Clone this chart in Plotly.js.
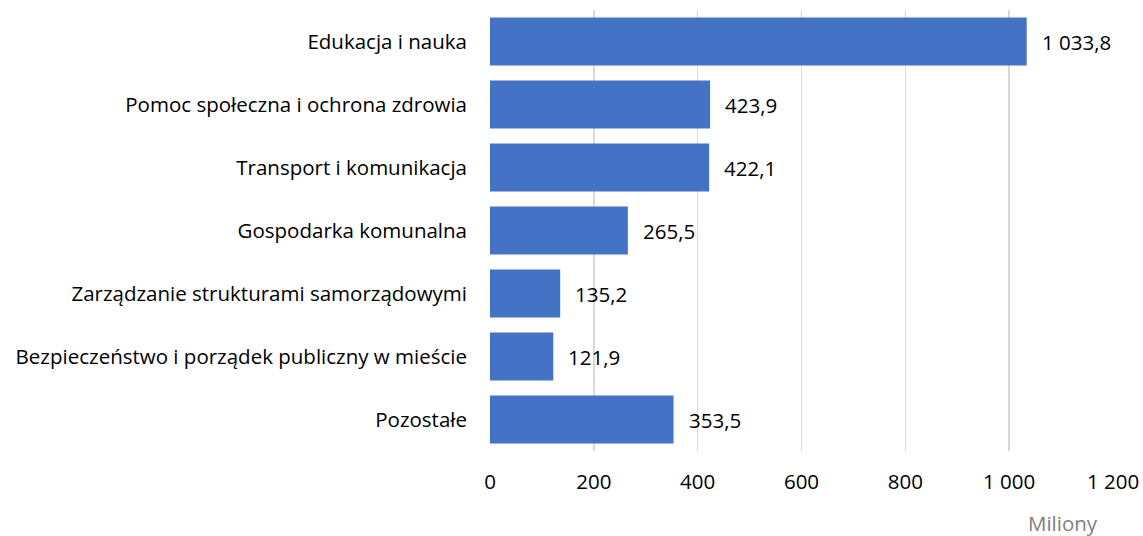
<!DOCTYPE html>
<html>
<head>
<meta charset="utf-8">
<script src="https://cdn.plot.ly/plotly-3.0.1.min.js"></script>
<style>html,body{margin:0;padding:0;background:#fff;}#chart{width:1143px;height:536px;}</style>
</head>
<body>
<div id="chart"></div>
<script>
const categories = [
  "Edukacja i nauka",
  "Pomoc społeczna i ochrona zdrowia",
  "Transport i komunikacja",
  "Gospodarka komunalna",
  "Zarządzanie strukturami samorządowymi",
  "Bezpieczeństwo i porządek publiczny w mieście",
  "Pozostałe"
];
const values = [1033.8, 423.9, 422.1, 265.5, 135.2, 121.9, 353.5];
const valueLabels = ["1 033,8", "423,9", "422,1", "265,5", "135,2", "121,9", "353,5"];
const unitLabel = "Miliony";

const FONT = "'Open Sans', Lato, sans-serif";
const FS = 20.5;

const annotations = categories.map((c, i) => ({
  x: values[i], y: c, xref: 'x', yref: 'y',
  text: valueLabels[i], showarrow: false,
  xanchor: 'left', yanchor: 'middle', xshift: 13,
  font: {family: FONT, size: FS, color: '#000'}
}));
const pw = 1143 - 490 - 30, ph = 536 - 10 - 85;
annotations.push({
  x: (1063 - 490) / pw, y: (536 - 85 - 523) / ph, xref: 'paper', yref: 'paper',
  text: unitLabel, showarrow: false, xanchor: 'center', yanchor: 'middle',
  font: {family: FONT, size: FS, color: '#808080'}
});

const layout = {
  width: 1143, height: 536,
  margin: {l: 490, r: 30, t: 10, b: 85},
  paper_bgcolor: '#fff', plot_bgcolor: '#fff',
  separators: ', ',
  showlegend: false,
  bargap: 0.24,
  font: {family: FONT, size: FS, color: '#000'},
  xaxis: {
    range: [0, 1200], dtick: 200, tick0: 0,
    separatethousands: true,
    showgrid: true, gridcolor: '#d9d9d9', gridwidth: 1.5,
    zeroline: false, showline: false, ticks: '',
    ticklabelstandoff: 16, fixedrange: true,
    tickfont: {family: FONT, size: FS, color: '#000'}
  },
  yaxis: {
    type: 'category', autorange: 'reversed',
    showgrid: false, zeroline: false, showline: false, ticks: '',
    ticklabelstandoff: 22, fixedrange: true,
    tickfont: {family: FONT, size: FS, color: '#000'}
  },
  annotations: annotations
};

Plotly.newPlot('chart', [{
  type: 'bar', orientation: 'h',
  x: values, y: categories,
  marker: {color: '#4472C4'},
  hoverinfo: 'none'
}], layout, {staticPlot: true});
</script>
</body>
</html>
